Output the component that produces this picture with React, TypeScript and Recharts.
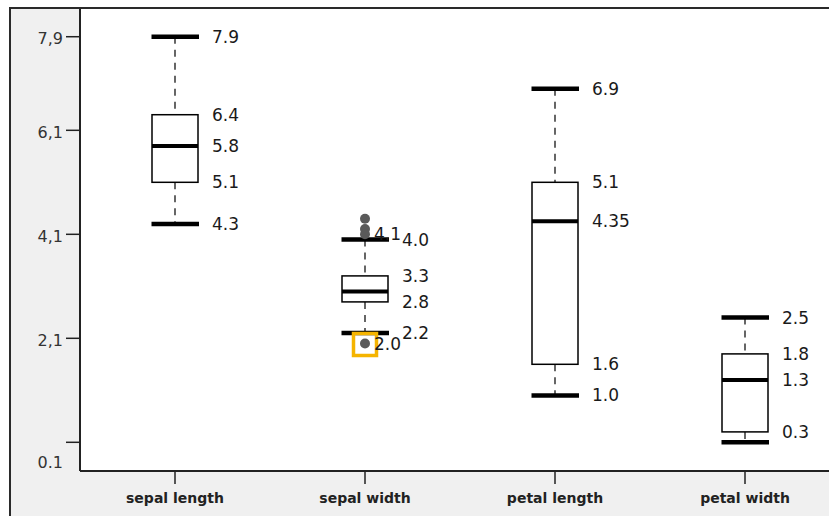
import { ComposedChart, Bar, Scatter, XAxis, YAxis, CartesianGrid } from 'recharts';

const categories = ['sepal length', 'sepal width', 'petal length', 'petal width'];
const whiskerLow = [4.3, 2.2, 1.0, 0.1];
const q1 = [5.1, 2.8, 1.6, 0.3];
const median = [5.8, 3.0, 4.35, 1.3];
const q3 = [6.4, 3.3, 5.1, 1.8];
const whiskerHigh = [7.9, 4.0, 6.9, 2.5];
// values printed next to each box (the overlapping ones are left out, as in the source)
const boxLabels = [
  [7.9, 6.4, 5.8, 5.1, 4.3],
  [4.0, 3.3, 2.8, 2.2],
  [6.9, 5.1, 4.35, 1.6, 1.0],
  [2.5, 1.8, 1.3, 0.3],
];

const outlierCategories = ['sepal width', 'sepal width', 'sepal width', 'sepal width'];
const outlierValues = [4.4, 4.2, 4.1, 2.0];
const labelledOutliers = [4.1, 2.0];
const selectedOutlier = 2.0;

const yTicks = [0.1, 2.1, 4.1, 6.1, 7.9];
const yTickLabels = ['0.1', '2,1', '4,1', '6,1', '7,9'];

const boxes = categories.map((name, i) => ({ name, range: [whiskerLow[i], whiskerHigh[i]] }));
const outliers = outlierValues.map((value, i) => ({ name: outlierCategories[i], value }));

const FONT = '"DejaVu Sans", Verdana, sans-serif';
const fmt = (v: number) => (Math.round(v * 100) % 10 === 0 ? v.toFixed(1) : v.toFixed(2));

const BoxShape = (props: any) => {
  const { x, y, width, height, index } = props;
  const top = Math.min(y, y + height);
  const bottom = Math.max(y, y + height);
  const lo = whiskerLow[index];
  const hi = whiskerHigh[index];
  const py = (v: number) => bottom - ((v - lo) / (hi - lo)) * (bottom - top);
  const cx = x + width / 2;
  const half = width / 2;
  return (
    <g>
      <line x1={cx} x2={cx} y1={py(hi)} y2={py(q3[index])} stroke="#000" strokeWidth={1.2} strokeDasharray="7 6" />
      <line x1={cx} x2={cx} y1={py(q1[index])} y2={py(lo)} stroke="#000" strokeWidth={1.2} strokeDasharray="7 6" />
      <rect x={cx - half} y={py(q3[index])} width={width} height={py(q1[index]) - py(q3[index])} fill="#fff" stroke="#000" strokeWidth={1.5} />
      <line x1={cx - half} x2={cx + half} y1={py(median[index])} y2={py(median[index])} stroke="#000" strokeWidth={4} />
      <line x1={cx - half - 0.5} x2={cx + half + 1} y1={py(hi)} y2={py(hi)} stroke="#000" strokeWidth={4.5} />
      <line x1={cx - half - 0.5} x2={cx + half + 1} y1={py(lo)} y2={py(lo)} stroke="#000" strokeWidth={4.5} />
      {boxLabels[index].map((v) => (
        <text key={v} x={cx + 37} y={py(v)} dominantBaseline="central" fontSize={17} fontFamily={FONT} fill="#1a1a1a">
          {fmt(v)}
        </text>
      ))}
    </g>
  );
};

const OutlierDot = (props: any) => {
  const { cx, cy, payload } = props;
  const v = payload.value;
  return (
    <g>
      {v === selectedOutlier && (
        <rect x={cx - 11.5} y={cy - 10} width={23} height={22} fill="none" stroke="#f5b400" strokeWidth={3.5} />
      )}
      <circle cx={cx} cy={cy} r={5} fill="#5a5a5a" />
      {labelledOutliers.includes(v) && (
        <text x={cx + 9} y={cy} dominantBaseline="central" fontSize={17} fontFamily={FONT} fill="#1a1a1a">
          {fmt(v)}
        </text>
      )}
    </g>
  );
};

const YTick = (props: any) => {
  const { x, y, payload } = props;
  const i = yTicks.indexOf(payload.value);
  const dy = i === 0 ? 20 : 2;
  return (
    <text x={x} y={y + dy} textAnchor="end" dominantBaseline="central" fontSize={16} fontFamily={FONT} fill="#333">
      {yTickLabels[i]}
    </text>
  );
};

const XTick = (props: any) => {
  const { x, y, payload } = props;
  return (
    <text x={x} y={y} textAnchor="middle" dominantBaseline="central" fontSize={14} fontWeight="bold" fontFamily={FONT} fill="#222">
      {payload.value}
    </text>
  );
};

const App = () => (
  <div style={{ position: 'absolute', left: 0, top: 0, width: 829, height: 516, overflow: 'hidden', background: '#fff' }}>
    <div
      style={{
        position: 'absolute',
        left: 9,
        top: 7,
        right: 0,
        bottom: 0,
        background: '#f0f0f0',
        borderTop: '2px solid #2a2a2a',
        borderLeft: '2px solid #2a2a2a',
      }}
    />
    <div style={{ position: 'absolute', left: 0, top: 0 }}>
      <ComposedChart width={850} height={516} data={boxes} margin={{ top: 9, right: 10, bottom: 0, left: 0 }}>
        <CartesianGrid horizontal={false} vertical={false} fill="#fff" stroke="none" />
        <XAxis
          dataKey="name"
          type="category"
          allowDuplicatedCategory={false}
          height={45}
          tickSize={13}
          tickMargin={14}
          axisLine={{ stroke: '#222', strokeWidth: 2 }}
          tickLine={{ stroke: '#222', strokeWidth: 1.5 }}
          tick={<XTick />}
        />
        <YAxis
          type="number"
          domain={[-0.452, 8.433]}
          allowDataOverflow
          ticks={yTicks}
          interval={0}
          width={80}
          tickSize={14}
          tickMargin={3}
          axisLine={{ stroke: '#222', strokeWidth: 2 }}
          tickLine={{ stroke: '#222', strokeWidth: 1.5 }}
          tick={<YTick />}
        />
        <Bar data={boxes} dataKey="range" barSize={46} shape={<BoxShape />} isAnimationActive={false} />
        <Scatter data={outliers} dataKey="value" shape={<OutlierDot />} isAnimationActive={false} />
      </ComposedChart>
    </div>
  </div>
);

export default App;
